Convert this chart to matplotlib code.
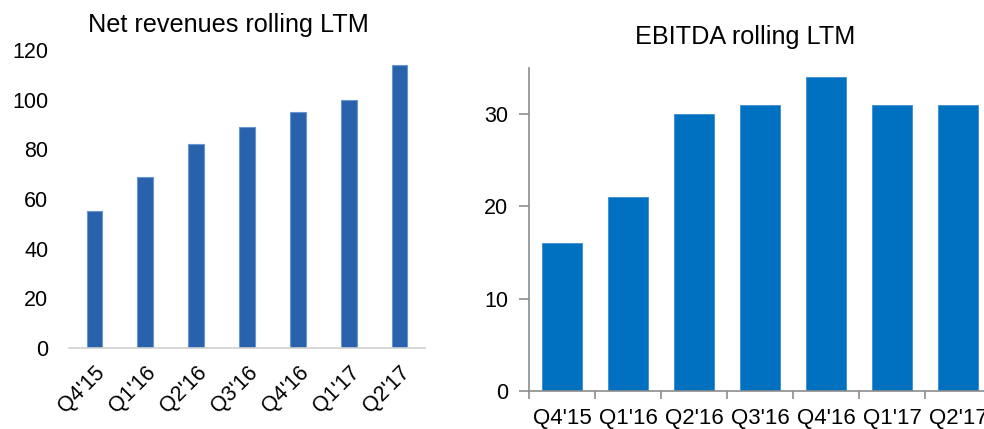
import matplotlib
matplotlib.use("Agg")
import matplotlib.pyplot as plt

plt.rcParams['font.family'] = ['Liberation Sans', 'DejaVu Sans']

quarters = ["Q4'15", "Q1'16", "Q2'16", "Q3'16", "Q4'16", "Q1'17", "Q2'17"]
net_revenues = [55, 69, 82, 89, 95, 100, 114]
ebitda = [16, 21, 30, 31, 34, 31, 31]

W, H = 984, 429
fig = plt.figure(figsize=(W / 100, H / 100), dpi=100)

def box(x0, y0, x1, y1):
    # pixel box -> figure fraction
    return [x0 / W, 1 - y1 / H, (x1 - x0) / W, (y1 - y0) / H]

# left chart: net revenues
ax1 = fig.add_axes(box(69, 50, 425, 348))
x = range(len(quarters))
ax1.bar(x, net_revenues, width=0.31, color='#2862AC', edgecolor='#6A95CF', linewidth=0.8)
ax1.set_xlim(-0.5, 6.5)
ax1.set_ylim(0, 120)
ax1.set_yticks(range(0, 121, 20))
for s in ['top', 'right', 'left']:
    ax1.spines[s].set_visible(False)
ax1.spines['bottom'].set_color('#D0D0D0')
ax1.spines['bottom'].set_linewidth(1.2)
ax1.tick_params(axis='y', length=0, labelsize=15.5, pad=15)
ax1.tick_params(axis='x', length=0, labelsize=15.5, pad=10)
ax1.set_xticks(list(x))
ax1.set_xticklabels(quarters, rotation=45, ha='right', rotation_mode='anchor')
fig.text(228 / W, 1 - 25 / H, "Net revenues rolling LTM", ha='center', va='center', fontsize=18.2)

# right chart: EBITDA
ax2 = fig.add_axes(box(529, 68, 991, 391))
ax2.bar(x, ebitda, width=0.62, color='#0070C0', edgecolor='#3A8DD0', linewidth=0.6)
ax2.set_xlim(-0.5, 6.5)
ax2.set_ylim(0, 35)
ax2.set_yticks([0, 10, 20, 30])
for s in ['top', 'right']:
    ax2.spines[s].set_visible(False)
for s in ['left', 'bottom']:
    ax2.spines[s].set_color('#8C8C8C')
    ax2.spines[s].set_linewidth(1.2)
ax2.tick_params(axis='y', length=7, width=1.2, color='#8C8C8C', labelsize=15.5, pad=8)
ax2.set_xticks([i - 0.5 for i in range(len(quarters))], minor=False)
ax2.set_xticklabels([])
ax2.set_xticks(list(x), minor=True)
ax2.set_xticklabels(quarters, minor=True)
ax2.tick_params(axis='x', which='major', length=6, width=1.2, color='#8C8C8C')
ax2.tick_params(axis='x', which='minor', length=0, labelsize=16, pad=12)
fig.text(745 / W, 1 - 37 / H, "EBITDA rolling LTM", ha='center', va='center', fontsize=18.2)

fig.savefig("out.png", dpi=100)
